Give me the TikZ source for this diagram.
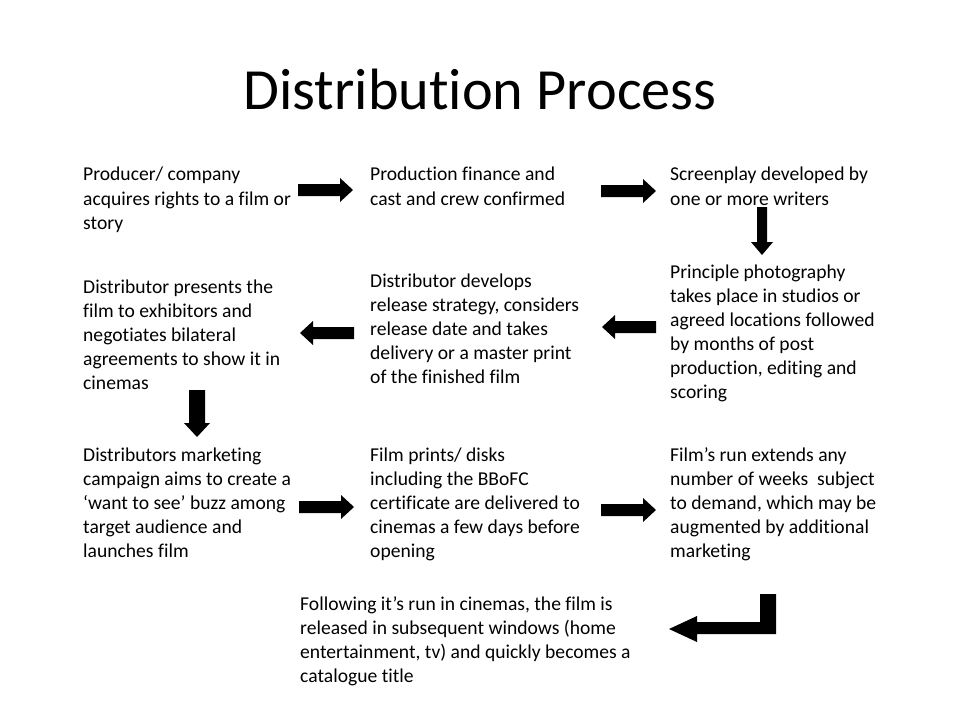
\documentclass[tikz,border=0pt]{standalone}
\usepackage{fontspec}
\setmainfont[Ligatures=NoCommon]{Carlito}
\tikzset{
  slidetext/.style={anchor=base west,inner sep=0pt,align=left,
    font=\fontsize{19.6bp}{24bp}\selectfont},
  slidetitle/.style={anchor=base,inner sep=0pt,
    font=\fontsize{58.3bp}{70bp}\selectfont},
  blockarrow/.style={fill=black,draw=none},
}
\begin{document}
\begin{tikzpicture}[x=1bp,y=-1bp]
  \useasboundingbox (0,0) rectangle (960,720);
%%
  % Title
  \node[slidetitle] (title) at (480,110) {Distribution Process};
  % Row 1 (placed at the baseline of the last line)
  \node[slidetext] (producer) at (83,229) {Producer/ company\\acquires rights to a film or\\story};
  \node[slidetext] (finance) at (370,205) {Production finance and\\cast and crew confirmed};
  \node[slidetext] (screenplay) at (670,205) {Screenplay developed by\\one or more writers};
  % Row 2
  \node[slidetext] (photography) at (670,398) {Principle photography\\takes place in studios or\\agreed locations followed\\by months of post\\production, editing and\\scoring};
  \node[slidetext] (strategy) at (370,383) {Distributor develops\\release strategy, considers\\release date and takes\\delivery or a master print\\of the finished film};
  \node[slidetext] (exhibitors) at (83,389) {Distributor presents the\\film to exhibitors and\\negotiates bilateral\\agreements to show it in\\cinemas};
  % Row 3
  \node[slidetext] (marketing) at (83,557) {Distributors marketing\\campaign aims to create a\\‘want to see’ buzz among\\target audience and\\launches film};
  \node[slidetext] (prints) at (370,557) {Film prints/ disks\\including the BBoFC\\certificate are delivered to\\cinemas a few days before\\opening};
  \node[slidetext] (filmrun) at (670,557) {Film’s run extends any\\number of weeks~ subject\\to demand, which may be\\augmented by additional\\marketing};
  % Last
  \node[slidetext] (catalogue) at (300,682) {Following it’s run in cinemas, the film is\\released in subsequent windows (home\\entertainment, tv) and quickly becomes a\\catalogue title};
%%
  % Arrows pointing right
  \foreach \x/\y in {298/190, 601/191, 299/507, 601/510}
    \fill[blockarrow] (\x,\y-6) -- ++(42,0) -- ++(0,-6) -- ++(13,12) -- ++(-13,12) -- ++(0,-6) -- ++(-42,0) -- cycle;
  % Arrows pointing left
  \foreach \x/\y in {300/333, 602/327}
    \fill[blockarrow] (\x,\y) -- ++(13,-12) -- ++(0,6) -- ++(41,0) -- ++(0,12) -- ++(-41,0) -- ++(0,6) -- cycle;
  % Arrows pointing down
  \fill[blockarrow] (757,207) -- (767,207) -- (767,242) -- (773,242) -- (762,255) -- (751,242) -- (757,242) -- cycle;
  \fill[blockarrow] (189,390) -- (205,390) -- (205,423) -- (210,423) -- (197,437) -- (184,423) -- (189,423) -- cycle;
  % Bent arrow
  \fill[blockarrow] (776,594) -- (776,634) -- (697,634) -- (697,642) -- (669,629) -- (697,616) -- (697,622) -- (760,622) -- (760,594) -- cycle;
%
\end{tikzpicture}
\end{document}
